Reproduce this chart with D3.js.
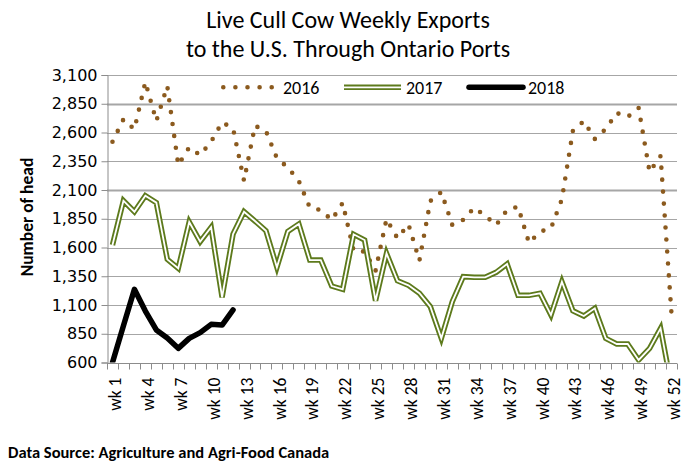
<!DOCTYPE html>
<html><head><meta charset="utf-8">
<script src="https://cdn.jsdelivr.net/npm/d3@7"></script>
<style>
html,body{margin:0;padding:0;background:#fff;}
svg{display:block;font-family:Carlito, Lato, "Open Sans", sans-serif;}
</style></head>
<body><svg id="c" width="692" height="467"></svg>
<script>
const weeks = ["wk 1","wk 2","wk 3","wk 4","wk 5","wk 6","wk 7","wk 8","wk 9","wk 10","wk 11","wk 12","wk 13","wk 14","wk 15","wk 16","wk 17","wk 18","wk 19","wk 20","wk 21","wk 22","wk 23","wk 24","wk 25","wk 26","wk 27","wk 28","wk 29","wk 30","wk 31","wk 32","wk 33","wk 34","wk 35","wk 36","wk 37","wk 38","wk 39","wk 40","wk 41","wk 42","wk 43","wk 44","wk 45","wk 46","wk 47","wk 48","wk 49","wk 50","wk 51","wk 52"];
const weekLabels = ["wk 1","wk 4","wk 7","wk 10","wk 13","wk 16","wk 19","wk 22","wk 25","wk 28","wk 31","wk 34","wk 37","wk 40","wk 43","wk 46","wk 49","wk 52"];
const yTicks = [600,850,1100,1350,1600,1850,2100,2350,2600,2850,3100];
const s2016 = [2520,2715,2628,3040,2700,3004,2317,2471,2404,2520,2689,2636,2181,2659,2613,2376,2296,2178,1948,1926,1839,1987,1572,1565,1398,1848,1680,1802,1485,2004,2083,1796,1840,1946,1877,1795,1926,1955,1640,1738,1767,2020,2613,2700,2544,2630,2770,2735,2813,2257,2396,1022];
const s2017 = [1622,2007,1911,2050,1990,1497,1419,1822,1651,1776,1167,1717,1911,1830,1746,1428,1740,1804,1491,1491,1265,1236,1715,1665,1137,1549,1311,1271,1202,1085,810,1129,1346,1341,1341,1384,1456,1184,1184,1202,1013,1303,1050,1004,1071,810,761,761,622,723,897,390];
const s2018 = [600,920,1236,1047,883,813,723,810,860,932,926,1057];
const seriesNames = ["2016","2017","2018"];

const svg = d3.select("#c");
const L = 107, R = 677, T = 75, B = 362.5;
const x = d3.scaleBand().domain(weeks).range([L, R]).padding(0);
const y = d3.scaleLinear().domain([600, 3100]).range([B, T]);
const cx = w => x(w) + x.bandwidth() / 2;

// Title
const title = svg.append("text").attr("text-anchor", "middle")
  .style("font-size", "24px").attr("fill", "#000");
title.append("tspan").attr("x", 348).attr("y", 28).text("Live Cull Cow Weekly Exports");
title.append("tspan").attr("x", 348).attr("y", 57).text("to the U.S. Through Ontario Ports");

// Gridlines
svg.append("g").selectAll("line").data(yTicks).join("line")
  .attr("x1", L).attr("x2", R)
  .attr("y1", d => Math.round(y(d)) + 0.5).attr("y2", d => Math.round(y(d)) + 0.5)
  .attr("stroke", "#a6a6a6")
  .attr("stroke-width", d => (d === 2850 || d === 2100) ? 2 : 1);

// Y axis
const yAxis = svg.append("g").attr("transform", `translate(${L + 0.5},0)`)
  .call(d3.axisLeft(y).tickValues(yTicks).tickSize(6).tickPadding(4).tickFormat(d3.format(",")));
yAxis.select(".domain").attr("stroke", "#8c8c8c");
yAxis.selectAll(".tick line").attr("stroke", "#8c8c8c");
yAxis.selectAll(".tick text").style("font-size", "16px").style("font-family", "'DejaVu Sans', sans-serif").attr("fill", "#000");

// X axis
const xAxisG = svg.append("g").attr("transform", `translate(0,${Math.round(B) + 0.5})`);
xAxisG.append("line").attr("x1", L).attr("x2", R).attr("stroke", "#8c8c8c");
xAxisG.selectAll("line.tk").data(weeks.concat(["end"])).join("line").attr("class", "tk")
  .attr("x1", (d, i) => Math.round(i < weeks.length ? x(d) : R) + 0.5)
  .attr("x2", (d, i) => Math.round(i < weeks.length ? x(d) : R) + 0.5)
  .attr("y1", 0).attr("y2", 6).attr("stroke", "#8c8c8c");
xAxisG.selectAll("text").data(weekLabels).join("text")
  .attr("transform", d => `translate(${cx(d) + 2.5},14) rotate(-90)`)
  .attr("text-anchor", "end").attr("dy", "0.35em")
  .style("font-size", "17.5px").attr("fill", "#000").text(d => d);

// Y axis title
svg.append("text").attr("transform", "translate(33,217) rotate(-90)")
  .attr("text-anchor", "middle").style("font-size", "17.5px").style("font-weight", "bold")
  .text("Number of head");

// clip
svg.append("clipPath").attr("id", "clip").append("rect")
  .attr("x", L).attr("y", T - 20).attr("width", R - L + 10).attr("height", B - T + 20);

const line = d3.line().x((d, i) => cx(weeks[i])).y(d => y(d));
const plot = svg.append("g").attr("clip-path", "url(#clip)");

const brown = "#8b5a1e", green = "#5d7a1c";
plot.append("path").attr("d", line(s2016)).attr("fill", "none")
  .attr("stroke", brown).attr("stroke-width", 4.6).attr("stroke-linecap", "round")
  .attr("stroke-dasharray", "0 12");
plot.append("path").attr("d", line(s2017)).attr("fill", "none")
  .attr("stroke", green).attr("stroke-width", 5.5).attr("stroke-linejoin", "miter");
plot.append("path").attr("d", line(s2017)).attr("fill", "none")
  .attr("stroke", "#fff").attr("stroke-width", 1.8).attr("stroke-linejoin", "miter");
plot.append("path").attr("d", line(s2018)).attr("fill", "none")
  .attr("stroke", "#000").attr("stroke-width", 5.5).attr("stroke-linejoin", "round").attr("stroke-linecap", "round");

// Legend
const ly = 87.3;
const lg = svg.append("g");
lg.append("line").attr("x1", 223.3).attr("x2", 271.8).attr("y1", ly).attr("y2", ly)
  .attr("stroke", brown).attr("stroke-width", 4.6).attr("stroke-linecap", "round").attr("stroke-dasharray", "0 12.1");
lg.append("line").attr("x1", 344).attr("x2", 401).attr("y1", ly).attr("y2", ly)
  .attr("stroke", green).attr("stroke-width", 5.5);
lg.append("line").attr("x1", 344).attr("x2", 401).attr("y1", ly).attr("y2", ly)
  .attr("stroke", "#fff").attr("stroke-width", 1.8);
lg.append("line").attr("x1", 469).attr("x2", 523).attr("y1", ly).attr("y2", ly)
  .attr("stroke", "#000").attr("stroke-width", 5.5).attr("stroke-linecap", "round");
const lx = [283, 406, 528];
lg.selectAll("text").data(seriesNames).join("text")
  .attr("x", (d, i) => lx[i]).attr("y", ly).attr("dy", "0.35em")
  .style("font-size", "18px").text(d => d);

// Source
svg.append("text").attr("x", 8).attr("y", 458).style("font-size", "16.5px").style("font-weight", "bold")
  .text("Data Source: Agriculture and Agri-Food Canada");
</script></body></html>
